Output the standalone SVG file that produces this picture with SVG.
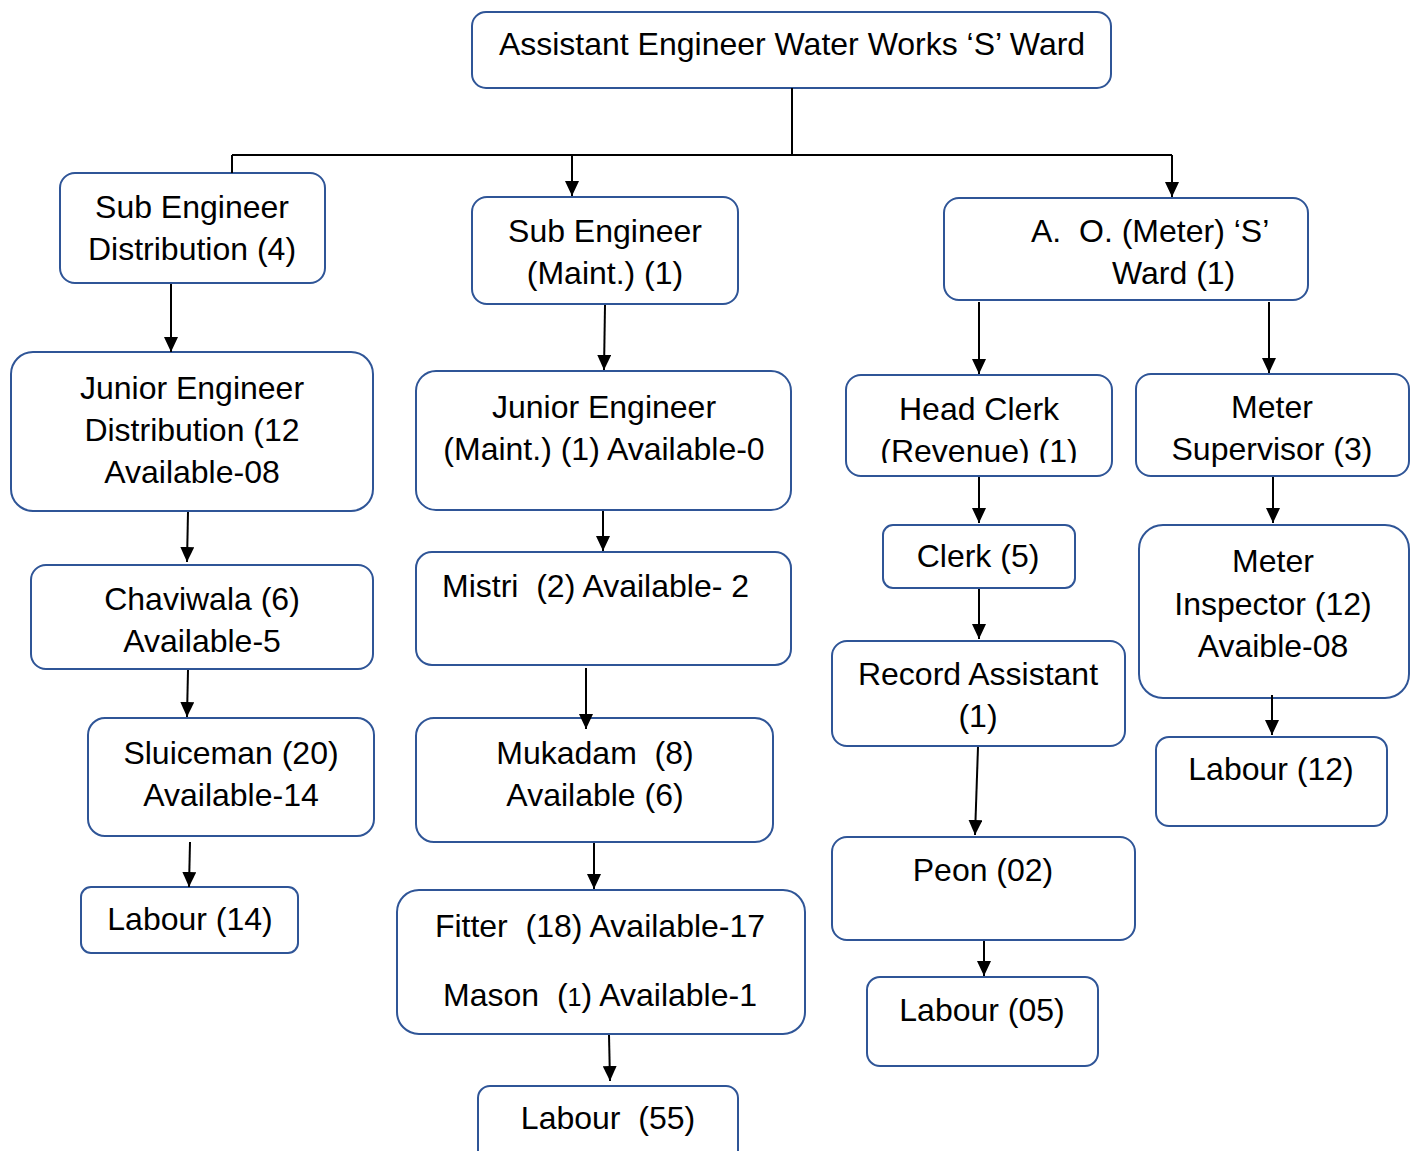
<svg xmlns="http://www.w3.org/2000/svg" width="1418" height="1151" viewBox="0 0 1418 1151">
<style>
.box{fill:#fff;stroke:#2F5597;stroke-width:2}
text{font-family:"Liberation Sans",Arial,sans-serif;font-size:32px;fill:#000;white-space:pre}
.c{text-anchor:middle}
.ln{fill:none;stroke:#000;stroke-width:2}
.ar{fill:none;stroke:#000;stroke-width:2;marker-end:url(#ah)}
</style>
<defs>
<marker id="ah" markerUnits="userSpaceOnUse" markerWidth="15" markerHeight="14" refX="15" refY="7" orient="auto" viewBox="0 0 15 14">
<path d="M0,0 L15,7 L0,14 z" fill="#000"/>
</marker>
<clipPath id="hcclip"><rect x="846" y="375" width="266" height="88"/></clipPath>
</defs>
<rect width="1418" height="1151" fill="#fff"/>
<g id="n-ae"><rect class="box" x="472" y="12" width="639" height="76" rx="14"/><text class="c" x="792" y="55">Assistant Engineer Water Works ‘S’ Ward</text></g>
<g id="n-sed"><rect class="box" x="60" y="173" width="265" height="110" rx="15"/><text class="c" x="192" y="218">Sub Engineer</text><text class="c" x="192" y="260">Distribution (4)</text></g>
<g id="n-sem"><rect class="box" x="472" y="197" width="266" height="107" rx="15"/><text class="c" x="605" y="242">Sub Engineer</text><text class="c" x="605" y="284">(Maint.) (1)</text></g>
<g id="n-ao"><rect class="box" x="944" y="198" width="364" height="102" rx="15"/><text x="1031" y="242">A.  O. (Meter) ‘S’</text><text x="1112" y="284">Ward (1)</text></g>
<g id="n-jed"><rect class="box" x="11" y="352" width="362" height="159" rx="22"/><text class="c" x="192" y="399">Junior Engineer</text><text class="c" x="192" y="441">Distribution (12</text><text class="c" x="192" y="483">Available-08</text></g>
<g id="n-chav"><rect class="box" x="31" y="565" width="342" height="104" rx="15"/><text class="c" x="202" y="610">Chaviwala (6)</text><text class="c" x="202" y="652">Available-5</text></g>
<g id="n-sluice"><rect class="box" x="88" y="718" width="286" height="118" rx="17"/><text class="c" x="231" y="764">Sluiceman (20)</text><text class="c" x="231" y="806">Available-14</text></g>
<g id="n-lab14"><rect class="box" x="81" y="887" width="217" height="66" rx="10"/><text class="c" x="190" y="930">Labour (14)</text></g>
<g id="n-jem"><rect class="box" x="416" y="371" width="375" height="139" rx="20"/><text class="c" x="604" y="418">Junior Engineer</text><text class="c" x="604" y="460">(Maint.) (1) Available-0</text></g>
<g id="n-mistri"><rect class="box" x="416" y="552" width="375" height="113" rx="16"/><text x="442" y="597">Mistri  (2) Available- 2</text></g>
<g id="n-muk"><rect class="box" x="416" y="718" width="357" height="124" rx="18"/><text class="c" x="595" y="764">Mukadam  (8)</text><text class="c" x="595" y="806">Available (6)</text></g>
<g id="n-fitter"><rect class="box" x="397" y="890" width="408" height="144" rx="22"/><text class="c" x="600" y="937">Fitter  (18) Available-17</text><text class="c" x="600" y="1006">Mason  (<tspan font-size="25">1</tspan>) Available-1</text></g>
<g id="n-lab55"><rect class="box" x="478" y="1086" width="260" height="80" rx="12"/><text class="c" x="608" y="1129">Labour  (55)</text></g>
<g id="n-hc"><rect class="box" x="846" y="375" width="266" height="101" rx="15"/><g clip-path="url(#hcclip)"><text class="c" x="979" y="420">Head Clerk</text><text class="c" x="979" y="462">(Revenue) (1)</text></g></g>
<g id="n-clerk"><rect class="box" x="883" y="525" width="192" height="63" rx="10"/><text class="c" x="978" y="567">Clerk (5)</text></g>
<g id="n-rec"><rect class="box" x="832" y="641" width="293" height="105" rx="15"/><text class="c" x="978" y="685">Record Assistant</text><text class="c" x="978" y="727">(1)</text></g>
<g id="n-peon"><rect class="box" x="832" y="837" width="303" height="103" rx="15"/><text class="c" x="983" y="881">Peon (02)</text></g>
<g id="n-lab05"><rect class="box" x="867" y="977" width="231" height="89" rx="13"/><text class="c" x="982" y="1021">Labour (05)</text></g>
<g id="n-ms"><rect class="box" x="1136" y="374" width="273" height="102" rx="15"/><text class="c" x="1272" y="418">Meter</text><text class="c" x="1272" y="460">Supervisor (3)</text></g>
<g id="n-mi"><rect class="box" x="1139" y="525" width="270" height="173" rx="24"/><text class="c" x="1273" y="572">Meter</text><text class="c" x="1273" y="615">Inspector (12)</text><text class="c" x="1273" y="657">Avaible-08</text></g>
<g id="n-lab12"><rect class="box" x="1156" y="737" width="231" height="89" rx="13"/><text class="c" x="1271" y="780">Labour (12)</text></g>
<g id="connectors">
<path class="ln" d="M792,88 V155 M232,155 H1172 M232,155 V173"/>
<path class="ar" d="M572,155 V196"/>
<path class="ar" d="M1172,155 V197"/>
<path class="ar" d="M171,284 V352"/>
<path class="ar" d="M188,512 L187,562"/>
<path class="ar" d="M188,670 L187,717"/>
<path class="ar" d="M190,842 L189,887"/>
<path class="ar" d="M605,305 L604,370"/>
<path class="ar" d="M603,511 L603,551"/>
<path class="ar" d="M586,668 L586,729"/>
<path class="ar" d="M594,843 L594,889"/>
<path class="ar" d="M609,1035 L610,1081"/>
<path class="ar" d="M979,302 V374"/>
<path class="ar" d="M979,477 V523"/>
<path class="ar" d="M979,589 V639"/>
<path class="ar" d="M978,747 L975,835"/>
<path class="ar" d="M984,941 V976"/>
<path class="ar" d="M1269,302 V373"/>
<path class="ar" d="M1273,477 L1273,523"/>
<path class="ar" d="M1272,695 L1272,735"/>
</g>
</svg>
